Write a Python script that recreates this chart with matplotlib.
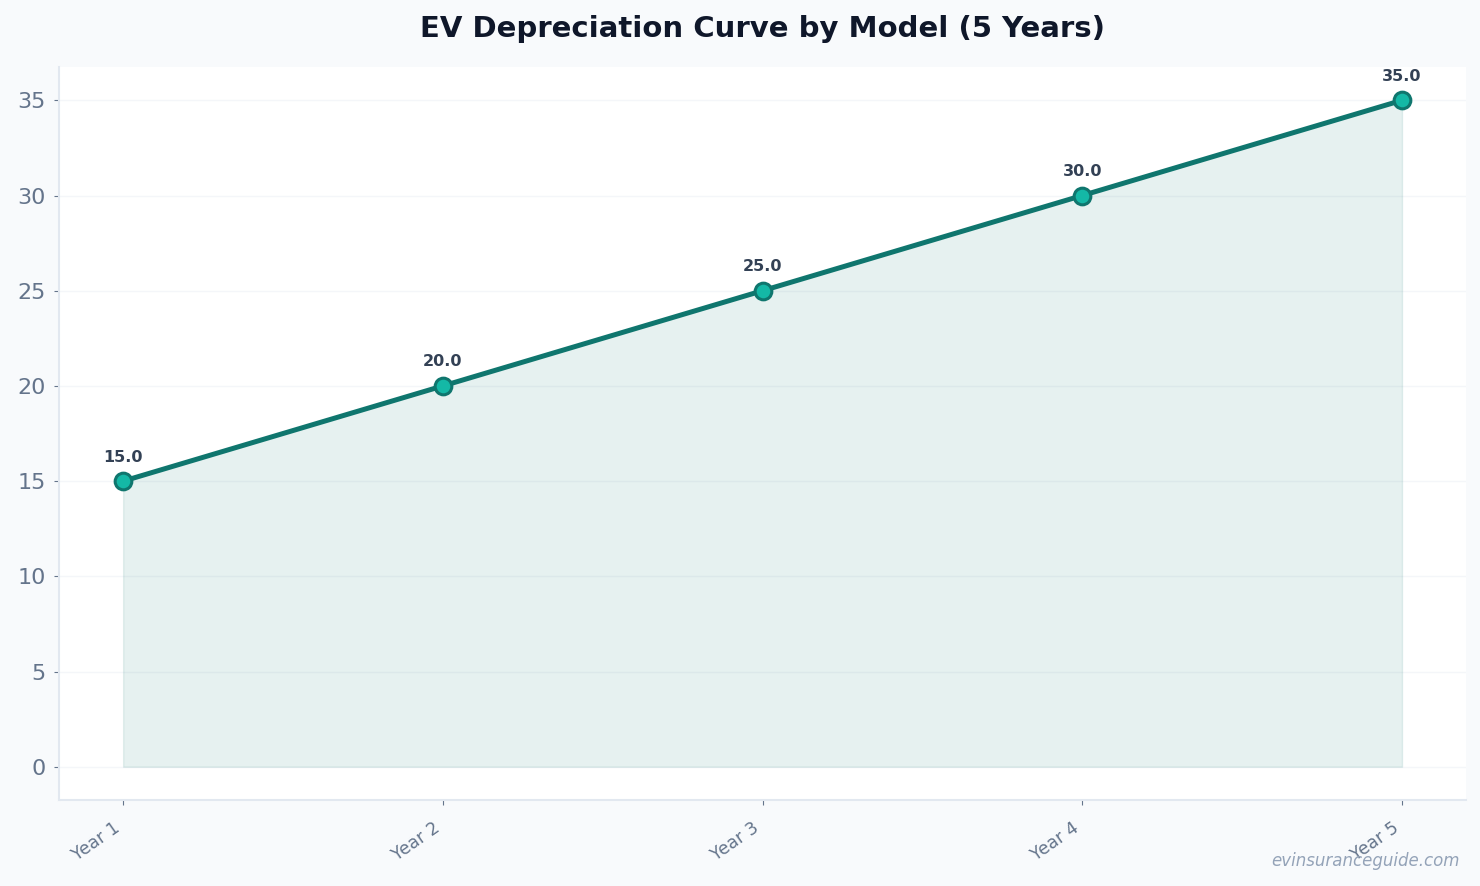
import matplotlib.pyplot as plt

years = ["Year 1", "Year 2", "Year 3", "Year 4", "Year 5"]
depreciation = [15.0, 20.0, 25.0, 30.0, 35.0]

fig, ax = plt.subplots(figsize=(14.8, 8.86), dpi=100)
fig.patch.set_facecolor('#f8fafc')
ax.set_facecolor('white')
fig.subplots_adjust(left=0.04, right=0.9905, top=0.9244, bottom=0.097)

x = list(range(len(years)))
ax.fill_between(x, depreciation, 0, color='#0f766e', alpha=0.1)
ax.plot(x, depreciation, color='#0f766e', linewidth=3.6, marker='o',
        markersize=12, markerfacecolor='#14b8a6', markeredgecolor='#0f766e',
        markeredgewidth=2.2, zorder=3)

for xi, v in zip(x, depreciation):
    ax.annotate(f"{v:.1f}", (xi, v), textcoords='offset points', xytext=(0, 14),
                ha='center', fontsize=11.5, fontweight='bold', color='#334155')

ax.set_xticks(x)
ax.set_xticklabels(years, rotation=35, ha='right', fontsize=12.5, color='#64748b')
ax.tick_params(axis='y', labelsize=16, labelcolor='#64748b', color='#64748b', pad=6)
ax.tick_params(axis='x', color='#64748b', pad=10)

ax.grid(axis='y', color='#f4f6f9', linewidth=1)
ax.set_axisbelow(True)
for s in ['top', 'right']:
    ax.spines[s].set_visible(False)
for s in ['left', 'bottom']:
    ax.spines[s].set_color('#e2e8f0')
    ax.spines[s].set_linewidth(1.5)

fig.text(0.515, 0.967, "EV Depreciation Curve by Model (5 Years)", fontsize=21,
         fontweight='bold', color='#0f172a', ha='center', va='center')
fig.text(0.986, 0.018, "evinsuranceguide.com", ha='right', va='bottom',
         fontsize=12, style='italic', color='#94a3b8')

fig.savefig('out.png', dpi=100, facecolor=fig.get_facecolor())
